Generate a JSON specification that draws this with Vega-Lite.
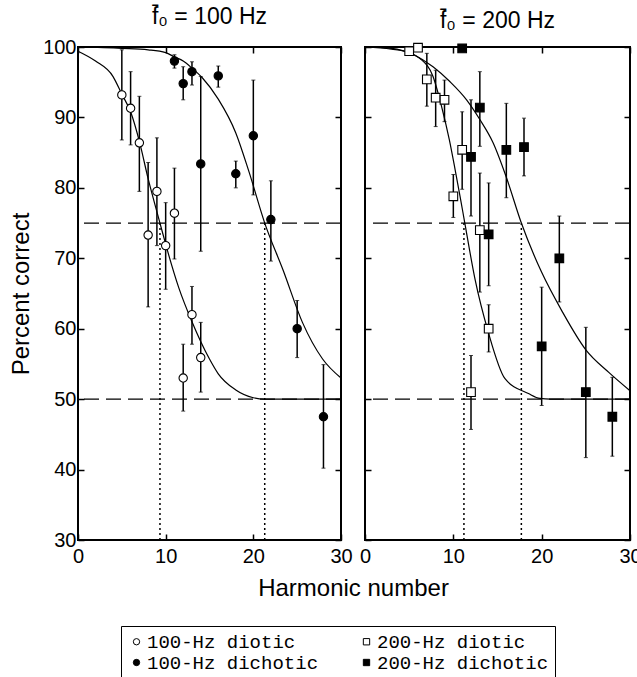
{
  "$schema": "https://vega.github.io/schema/vega-lite/v6.json",
  "padding": {"left": 8, "top": 5, "right": 0, "bottom": 0},
  "autosize": {"type": "pad"},
  "background": "white",
  "config": {
    "view": {"stroke": "black", "strokeWidth": 2},
    "font": "Liberation Sans",
    "axis": {
      "grid": false, "domain": false, "tickColor": "black", "tickSize": -6, "tickWidth": 1.5,
      "labelColor": "black", "labelFont": "Liberation Sans", "labelFontSize": 20,
      "titleColor": "black", "titleFont": "Liberation Sans", "titleFontWeight": "normal",
      "labelFlush": false, "labelPadding": 8
    },
    "title": {"font": "Liberation Sans", "fontSize": 23, "fontWeight": "normal", "color": "black", "offset": 8},
    "legend": {
      "strokeColor": "black", "fillColor": "white", "padding": 6, "columns": 2, "direction": "horizontal",
      "labelFont": "Liberation Mono", "labelFontSize": 19, "labelColor": "black", "labelOffset": 1,
      "symbolSize": 40, "symbolStrokeColor": "black", "symbolStrokeWidth": 1, "columnPadding": 38,
      "rowPadding": 1, "cornerRadius": 0, "labelLimit": 400
    }
  },
  "datasets": {
    "pts": [
      {"panel": "100", "series": "100-Hz diotic", "h": 5, "pc": 93.2, "lo": 86.8, "hi": 99.6},
      {"panel": "100", "series": "100-Hz diotic", "h": 6, "pc": 91.3, "lo": 86.1, "hi": 96.5},
      {"panel": "100", "series": "100-Hz diotic", "h": 7, "pc": 86.4, "lo": 79.5, "hi": 93.0},
      {"panel": "100", "series": "100-Hz diotic", "h": 8, "pc": 73.3, "lo": 63.1, "hi": 83.6},
      {"panel": "100", "series": "100-Hz diotic", "h": 9, "pc": 79.5, "lo": 71.8, "hi": 87.1},
      {"panel": "100", "series": "100-Hz diotic", "h": 10, "pc": 71.8, "lo": 65.6, "hi": 77.9},
      {"panel": "100", "series": "100-Hz diotic", "h": 11, "pc": 76.4, "lo": 69.9, "hi": 82.8},
      {"panel": "100", "series": "100-Hz diotic", "h": 12, "pc": 53.0, "lo": 48.3, "hi": 57.8},
      {"panel": "100", "series": "100-Hz diotic", "h": 13, "pc": 62.0, "lo": 57.8, "hi": 66.0},
      {"panel": "100", "series": "100-Hz diotic", "h": 14, "pc": 55.9, "lo": 51.0, "hi": 60.9},
      {"panel": "100", "series": "100-Hz dichotic", "h": 11, "pc": 98.0, "lo": 97.0, "hi": 98.9},
      {"panel": "100", "series": "100-Hz dichotic", "h": 12, "pc": 94.8, "lo": 92.5, "hi": 97.2},
      {"panel": "100", "series": "100-Hz dichotic", "h": 13, "pc": 96.5, "lo": 94.6, "hi": 97.9},
      {"panel": "100", "series": "100-Hz dichotic", "h": 14, "pc": 83.4, "lo": 71.0, "hi": 95.8},
      {"panel": "100", "series": "100-Hz dichotic", "h": 16, "pc": 95.9, "lo": 94.3, "hi": 97.3},
      {"panel": "100", "series": "100-Hz dichotic", "h": 18, "pc": 82.0, "lo": 80.0, "hi": 83.8},
      {"panel": "100", "series": "100-Hz dichotic", "h": 20, "pc": 87.4, "lo": 79.0, "hi": 95.3},
      {"panel": "100", "series": "100-Hz dichotic", "h": 22, "pc": 75.5, "lo": 69.6, "hi": 81.0},
      {"panel": "100", "series": "100-Hz dichotic", "h": 25, "pc": 60.0, "lo": 55.9, "hi": 64.0},
      {"panel": "100", "series": "100-Hz dichotic", "h": 28, "pc": 47.5, "lo": 40.2, "hi": 54.9},
      {"panel": "200", "series": "200-Hz diotic", "h": 5, "pc": 99.4, "lo": 99.4, "hi": 99.4},
      {"panel": "200", "series": "200-Hz diotic", "h": 6, "pc": 99.9, "lo": 99.9, "hi": 99.9},
      {"panel": "200", "series": "200-Hz diotic", "h": 7, "pc": 95.4, "lo": 91.6, "hi": 99.1},
      {"panel": "200", "series": "200-Hz diotic", "h": 8, "pc": 92.8, "lo": 88.7, "hi": 96.7},
      {"panel": "200", "series": "200-Hz diotic", "h": 9, "pc": 92.5, "lo": 89.4, "hi": 95.3},
      {"panel": "200", "series": "200-Hz diotic", "h": 10, "pc": 78.8, "lo": 75.8, "hi": 81.9},
      {"panel": "200", "series": "200-Hz diotic", "h": 11, "pc": 85.4, "lo": 79.8, "hi": 90.8},
      {"panel": "200", "series": "200-Hz diotic", "h": 12, "pc": 51.0, "lo": 45.7, "hi": 56.2},
      {"panel": "200", "series": "200-Hz diotic", "h": 13, "pc": 74.0, "lo": 65.2, "hi": 82.1},
      {"panel": "200", "series": "200-Hz diotic", "h": 14, "pc": 60.0, "lo": 56.7, "hi": 63.4},
      {"panel": "200", "series": "200-Hz dichotic", "h": 11, "pc": 99.8, "lo": 99.8, "hi": 99.8},
      {"panel": "200", "series": "200-Hz dichotic", "h": 12, "pc": 84.4, "lo": 76.0, "hi": 92.5},
      {"panel": "200", "series": "200-Hz dichotic", "h": 13, "pc": 91.4, "lo": 85.9, "hi": 96.5},
      {"panel": "200", "series": "200-Hz dichotic", "h": 14, "pc": 73.4, "lo": 66.1, "hi": 80.7},
      {"panel": "200", "series": "200-Hz dichotic", "h": 16, "pc": 85.4, "lo": 78.6, "hi": 92.0},
      {"panel": "200", "series": "200-Hz dichotic", "h": 18, "pc": 85.8, "lo": 81.7, "hi": 89.9},
      {"panel": "200", "series": "200-Hz dichotic", "h": 20, "pc": 57.5, "lo": 49.1, "hi": 65.9},
      {"panel": "200", "series": "200-Hz dichotic", "h": 22, "pc": 70.0, "lo": 63.8, "hi": 76.0},
      {"panel": "200", "series": "200-Hz dichotic", "h": 25, "pc": 51.0, "lo": 41.7, "hi": 60.2},
      {"panel": "200", "series": "200-Hz dichotic", "h": 28, "pc": 47.5, "lo": 41.9, "hi": 53.1}
    ],
    "curves": [
      {"panel": "100", "curve": "diotic", "h": 0, "pc": 99.4},
      {"panel": "100", "curve": "diotic", "h": 2, "pc": 98.0},
      {"panel": "100", "curve": "diotic", "h": 4, "pc": 95.8},
      {"panel": "100", "curve": "diotic", "h": 5, "pc": 93.3},
      {"panel": "100", "curve": "diotic", "h": 6, "pc": 90.8},
      {"panel": "100", "curve": "diotic", "h": 7, "pc": 86.6},
      {"panel": "100", "curve": "diotic", "h": 8, "pc": 81.3},
      {"panel": "100", "curve": "diotic", "h": 9.35, "pc": 75.0},
      {"panel": "100", "curve": "diotic", "h": 10, "pc": 72.0},
      {"panel": "100", "curve": "diotic", "h": 11.5, "pc": 65.8},
      {"panel": "100", "curve": "diotic", "h": 13, "pc": 61.0},
      {"panel": "100", "curve": "diotic", "h": 15, "pc": 55.7},
      {"panel": "100", "curve": "diotic", "h": 16, "pc": 53.6},
      {"panel": "100", "curve": "diotic", "h": 18, "pc": 51.3},
      {"panel": "100", "curve": "diotic", "h": 20, "pc": 50.2},
      {"panel": "100", "curve": "diotic", "h": 21.3, "pc": 50.0},
      {"panel": "100", "curve": "diotic", "h": 30, "pc": 50.0},
      {"panel": "100", "curve": "dichotic", "h": 0, "pc": 100.0},
      {"panel": "100", "curve": "dichotic", "h": 5, "pc": 99.8},
      {"panel": "100", "curve": "dichotic", "h": 8, "pc": 99.6},
      {"panel": "100", "curve": "dichotic", "h": 10, "pc": 99.2},
      {"panel": "100", "curve": "dichotic", "h": 11, "pc": 98.6},
      {"panel": "100", "curve": "dichotic", "h": 12, "pc": 98.0},
      {"panel": "100", "curve": "dichotic", "h": 13, "pc": 97.0},
      {"panel": "100", "curve": "dichotic", "h": 14.2, "pc": 95.6},
      {"panel": "100", "curve": "dichotic", "h": 16, "pc": 92.6},
      {"panel": "100", "curve": "dichotic", "h": 18, "pc": 87.8},
      {"panel": "100", "curve": "dichotic", "h": 19.5, "pc": 82.3},
      {"panel": "100", "curve": "dichotic", "h": 21.3, "pc": 75.0},
      {"panel": "100", "curve": "dichotic", "h": 23.4, "pc": 68.3},
      {"panel": "100", "curve": "dichotic", "h": 25.6, "pc": 60.9},
      {"panel": "100", "curve": "dichotic", "h": 27.9, "pc": 55.7},
      {"panel": "100", "curve": "dichotic", "h": 30, "pc": 53.0},
      {"panel": "200", "curve": "diotic", "h": 0, "pc": 100.0},
      {"panel": "200", "curve": "diotic", "h": 3, "pc": 99.7},
      {"panel": "200", "curve": "diotic", "h": 5, "pc": 99.2},
      {"panel": "200", "curve": "diotic", "h": 6.2, "pc": 98.4},
      {"panel": "200", "curve": "diotic", "h": 7.7, "pc": 95.8},
      {"panel": "200", "curve": "diotic", "h": 8.7, "pc": 91.4},
      {"panel": "200", "curve": "diotic", "h": 9.55, "pc": 86.8},
      {"panel": "200", "curve": "diotic", "h": 10.2, "pc": 82.6},
      {"panel": "200", "curve": "diotic", "h": 10.76, "pc": 78.8},
      {"panel": "200", "curve": "diotic", "h": 11.3, "pc": 75.0},
      {"panel": "200", "curve": "diotic", "h": 12.46, "pc": 67.0},
      {"panel": "200", "curve": "diotic", "h": 13.96, "pc": 59.5},
      {"panel": "200", "curve": "diotic", "h": 15.85, "pc": 52.9},
      {"panel": "200", "curve": "diotic", "h": 18.5, "pc": 50.8},
      {"panel": "200", "curve": "diotic", "h": 19.8, "pc": 50.1},
      {"panel": "200", "curve": "diotic", "h": 21, "pc": 50.0},
      {"panel": "200", "curve": "diotic", "h": 30, "pc": 50.0},
      {"panel": "200", "curve": "dichotic", "h": 0, "pc": 100.0},
      {"panel": "200", "curve": "dichotic", "h": 3, "pc": 99.8},
      {"panel": "200", "curve": "dichotic", "h": 5.5, "pc": 98.9},
      {"panel": "200", "curve": "dichotic", "h": 7.7, "pc": 97.2},
      {"panel": "200", "curve": "dichotic", "h": 9.6, "pc": 95.1},
      {"panel": "200", "curve": "dichotic", "h": 11.5, "pc": 92.5},
      {"panel": "200", "curve": "dichotic", "h": 13, "pc": 89.7},
      {"panel": "200", "curve": "dichotic", "h": 14.5, "pc": 86.4},
      {"panel": "200", "curve": "dichotic", "h": 16, "pc": 81.5},
      {"panel": "200", "curve": "dichotic", "h": 17.7, "pc": 75.0},
      {"panel": "200", "curve": "dichotic", "h": 20, "pc": 68.0},
      {"panel": "200", "curve": "dichotic", "h": 22.3, "pc": 62.5},
      {"panel": "200", "curve": "dichotic", "h": 25, "pc": 57.0},
      {"panel": "200", "curve": "dichotic", "h": 27.6, "pc": 53.8},
      {"panel": "200", "curve": "dichotic", "h": 30, "pc": 51.2}
    ],
    "hlines": [
      {"panel": "100", "v": 75}, {"panel": "100", "v": 50},
      {"panel": "200", "v": 75}, {"panel": "200", "v": 50}
    ],
    "vlines": [
      {"panel": "100", "h": 9.35, "lo": 30, "hi": 75},
      {"panel": "100", "h": 21.3, "lo": 30, "hi": 75},
      {"panel": "200", "h": 11.2, "lo": 30, "hi": 75},
      {"panel": "200", "h": 17.7, "lo": 30, "hi": 75}
    ]
  },
  "bounds": "flush",
  "spacing": 24,
  "hconcat": [
    {
      "width": 263, "height": 493,
      "title": {"text": "f\u0304\u2080 = 100 Hz"},
      "resolve": {"axis": {"x": "independent", "y": "independent"}},
      "layer": [
        {
          "data": {"name": "hlines"},
          "transform": [{"filter": "datum.panel == '100'"}],
          "mark": {"type": "rule", "color": "black", "strokeWidth": 1.3, "strokeDash": [15, 7]},
          "encoding": {
            "y": {"field": "v", "type": "quantitative", "scale": {"domain": [30, 100], "nice": false},
                  "axis": {"orient": "left", "values": [30, 40, 50, 60, 70, 80, 90, 100], "title": "Percent correct", "titleFontSize": 24, "titlePadding": 9}}
          }
        },
        {
          "data": {"name": "vlines"},
          "transform": [{"filter": "datum.panel == '100'"}],
          "mark": {"type": "rule", "color": "black", "strokeWidth": 1.5, "strokeDash": [2, 3]},
          "encoding": {
            "x": {"field": "h", "type": "quantitative", "scale": {"domain": [0, 30], "nice": false},
                  "axis": {"orient": "bottom", "values": [0, 10, 20, 30], "title": "Harmonic number", "titleFontSize": 24, "titleX": 275, "titleY": 55, "titleBaseline": "alphabetic", "titleAlign": "center", "labelPadding": 12}},
            "y": {"field": "lo", "type": "quantitative", "axis": null},
            "y2": {"field": "hi"}
          }
        },
        {
          "data": {"name": "curves"},
          "transform": [{"filter": "datum.panel == '100'"}],
          "mark": {"type": "line", "color": "black", "strokeWidth": 1.2, "interpolate": "monotone"},
          "encoding": {
            "x": {"field": "h", "type": "quantitative", "axis": {"orient": "top", "values": [0, 10, 20, 30], "labels": false, "title": null}},
            "y": {"field": "pc", "type": "quantitative", "axis": {"orient": "right", "values": [30, 40, 50, 60, 70, 80, 90, 100], "labels": false, "title": null}},
            "detail": {"field": "curve"}
          }
        },
        {
          "data": {"name": "pts"},
          "transform": [{"filter": "datum.panel == '100'"}],
          "mark": {"type": "errorbar", "color": "black", "ticks": {"size": 4, "color": "black"}, "rule": {"strokeWidth": 1.5, "color": "black"}},
          "encoding": {
            "x": {"field": "h", "type": "quantitative", "axis": null},
            "y": {"field": "lo", "type": "quantitative", "axis": null},
            "y2": {"field": "hi"}
          }
        },
        {
          "data": {"name": "pts"},
          "transform": [{"filter": "datum.panel == '100'"}],
          "mark": {"type": "point", "filled": true, "strokeWidth": 1.1, "size": 70, "opacity": 1},
          "encoding": {
            "x": {"field": "h", "type": "quantitative", "axis": null},
            "y": {"field": "pc", "type": "quantitative", "axis": null},
            "shape": {"field": "series", "type": "nominal",
                      "scale": {"domain": ["100-Hz diotic", "200-Hz diotic", "100-Hz dichotic", "200-Hz dichotic"], "range": ["circle", "square", "circle", "square"]},
                      "legend": {"title": null, "orient": "none", "legendX": 43, "legendY": 579}},
            "fill": {"field": "series", "type": "nominal",
                     "scale": {"domain": ["100-Hz diotic", "200-Hz diotic", "100-Hz dichotic", "200-Hz dichotic"], "range": ["white", "white", "black", "black"]},
                     "legend": {"title": null, "orient": "none", "legendX": 43, "legendY": 579}},
            "stroke": {"field": "series", "type": "nominal",
                       "scale": {"domain": ["100-Hz diotic", "200-Hz diotic", "100-Hz dichotic", "200-Hz dichotic"], "range": ["black", "black", "black", "black"]},
                       "legend": {"title": null, "orient": "none", "legendX": 43, "legendY": 579}}
          }
        }
      ]
    },
    {
      "width": 265, "height": 493,
      "title": {"text": "f\u0304\u2080 = 200 Hz"},
      "resolve": {"axis": {"x": "independent", "y": "independent"}},
      "layer": [
        {
          "data": {"name": "hlines"},
          "transform": [{"filter": "datum.panel == '200'"}],
          "mark": {"type": "rule", "color": "black", "strokeWidth": 1.3, "strokeDash": [15, 7]},
          "encoding": {
            "y": {"field": "v", "type": "quantitative", "scale": {"domain": [30, 100], "nice": false},
                  "axis": {"orient": "left", "values": [30, 40, 50, 60, 70, 80, 90, 100], "labels": false, "title": null}}
          }
        },
        {
          "data": {"name": "vlines"},
          "transform": [{"filter": "datum.panel == '200'"}],
          "mark": {"type": "rule", "color": "black", "strokeWidth": 1.5, "strokeDash": [2, 3]},
          "encoding": {
            "x": {"field": "h", "type": "quantitative", "scale": {"domain": [0, 30], "nice": false},
                  "axis": {"orient": "bottom", "values": [0, 10, 20, 30], "title": null, "labelPadding": 12}},
            "y": {"field": "lo", "type": "quantitative", "axis": null},
            "y2": {"field": "hi"}
          }
        },
        {
          "data": {"name": "curves"},
          "transform": [{"filter": "datum.panel == '200'"}],
          "mark": {"type": "line", "color": "black", "strokeWidth": 1.2, "interpolate": "monotone"},
          "encoding": {
            "x": {"field": "h", "type": "quantitative", "axis": {"orient": "top", "values": [0, 10, 20, 30], "labels": false, "title": null}},
            "y": {"field": "pc", "type": "quantitative", "axis": {"orient": "right", "values": [30, 40, 50, 60, 70, 80, 90, 100], "labels": false, "title": null}},
            "detail": {"field": "curve"}
          }
        },
        {
          "data": {"name": "pts"},
          "transform": [{"filter": "datum.panel == '200'"}],
          "mark": {"type": "errorbar", "color": "black", "ticks": {"size": 4, "color": "black"}, "rule": {"strokeWidth": 1.5, "color": "black"}},
          "encoding": {
            "x": {"field": "h", "type": "quantitative", "axis": null},
            "y": {"field": "lo", "type": "quantitative", "axis": null},
            "y2": {"field": "hi"}
          }
        },
        {
          "data": {"name": "pts"},
          "transform": [{"filter": "datum.panel == '200'"}],
          "mark": {"type": "point", "filled": true, "strokeWidth": 1.1, "size": 75, "opacity": 1},
          "encoding": {
            "x": {"field": "h", "type": "quantitative", "axis": null},
            "y": {"field": "pc", "type": "quantitative", "axis": null},
            "shape": {"field": "series", "type": "nominal",
                      "scale": {"domain": ["100-Hz diotic", "200-Hz diotic", "100-Hz dichotic", "200-Hz dichotic"], "range": ["circle", "square", "circle", "square"]},
                      "legend": {"title": null, "orient": "none", "legendX": 43, "legendY": 579}},
            "fill": {"field": "series", "type": "nominal",
                     "scale": {"domain": ["100-Hz diotic", "200-Hz diotic", "100-Hz dichotic", "200-Hz dichotic"], "range": ["white", "white", "black", "black"]},
                     "legend": {"title": null, "orient": "none", "legendX": 43, "legendY": 579}},
            "stroke": {"field": "series", "type": "nominal",
                       "scale": {"domain": ["100-Hz diotic", "200-Hz diotic", "100-Hz dichotic", "200-Hz dichotic"], "range": ["black", "black", "black", "black"]},
                       "legend": {"title": null, "orient": "none", "legendX": 43, "legendY": 579}}
          }
        }
      ]
    }
  ]
}
